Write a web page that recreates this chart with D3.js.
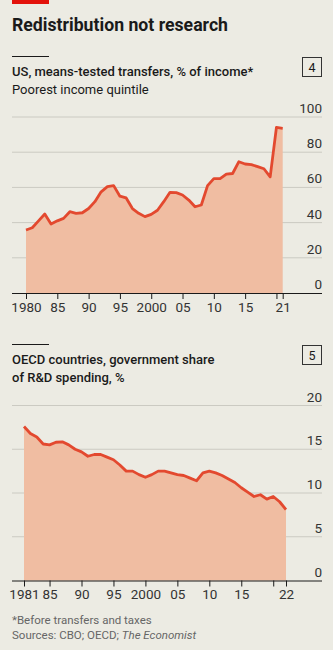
<!DOCTYPE html>
<html>
<head>
<meta charset="utf-8">
<script src="https://cdn.jsdelivr.net/npm/d3@7"></script>
<style>
  body { margin: 0; background: #ecebe3; }
  svg { display: block; }
  text { font-family: Roboto, "Noto Sans", sans-serif; fill: #1a1a1a; }
</style>
</head>
<body>
<script>
// chart 1 - US means-tested transfers, poorest quintile, % of income
var usYears = d3.range(1980, 2022);
var usValues = [35.8, 37.1, 41, 44.9, 39.2, 41, 42.4, 46.2, 45.3, 45.6,
                48, 51.9, 57.5, 60.4, 61, 55, 54, 48, 45.3, 43.4,
                44.7, 47, 51.9, 57.2, 57, 55.7, 52.8, 49, 50, 61,
                65, 65, 67.6, 67.9, 74.6, 73.3, 72.9, 71.8, 70.6, 66,
                94.1, 93.6];
var usTicks = [1980, 1985, 1990, 1995, 2000, 2005, 2010, 2015, 2020, 2021];
var usTickLabels = {1980: '1980', 1985: '85', 1990: '90', 1995: '95', 2000: '2000',
                    2005: '05', 2010: '10', 2015: '15', 2021: '21'};
var usYTicks = [0, 20, 40, 60, 80, 100];

// chart 2 - OECD government share of R&D spending, %
var rdYears = d3.range(1981, 2023);
var rdValues = [17.6, 16.8, 16.4, 15.6, 15.5, 15.8, 15.85, 15.5, 15.0, 14.7,
                14.2, 14.4, 14.4, 14.1, 13.8, 13.2, 12.5, 12.5, 12.1, 11.8,
                12.1, 12.5, 12.5, 12.3, 12.1, 12.0, 11.7, 11.4, 12.3, 12.5,
                12.3, 12.0, 11.6, 11.2, 10.6, 10.1, 9.6, 9.8, 9.3, 9.6,
                9.0, 8.1];
var rdTicks = [1981, 1985, 1990, 1995, 2000, 2005, 2010, 2015, 2020, 2022];
var rdTickLabels = {1981: '1981', 1985: '85', 1990: '90', 1995: '95', 2000: '2000',
                    2005: '05', 2010: '10', 2015: '15', 2022: '22'};
var rdYTicks = [0, 5, 10, 15, 20];

var lineCol = '#e3492f';
var fillCol = '#f0bda2';

var svg = d3.select('body').append('svg')
    .attr('width', 333)
    .attr('height', 650);

// red tag + title
svg.append('rect').attr('x', 12).attr('y', 0).attr('width', 37).attr('height', 4).attr('fill', '#e3120b');
svg.append('text').attr('x', 12).attr('y', 31)
    .style('font-size', '17.5px').style('font-weight', 700)
    .attr('textLength', 216).attr('lengthAdjust', 'spacingAndGlyphs')
    .text('Redistribution not research');

function panel(opts) {
    var g = svg.append('g');
    // short black rule
    g.append('line').attr('x1', 12).attr('x2', 49)
        .attr('y1', opts.top + 0.5).attr('y2', opts.top + 0.5)
        .attr('stroke', '#1a1a1a').attr('stroke-width', 1);
    // numbered box
    g.append('rect').attr('x', 302.5).attr('y', opts.top + 1.5)
        .attr('width', 19).attr('height', 19)
        .attr('fill', 'none').attr('stroke', '#333').attr('stroke-width', 1);
    g.append('text').attr('x', 312).attr('y', opts.top + 16)
        .attr('text-anchor', 'middle').style('font-size', '12.5px')
        .text(opts.num);
    opts.lines.forEach(function(l, i) {
        g.append('text').attr('x', 12).attr('y', opts.top + 20 + i * 17.5)
            .style('font-size', '13px').style('font-weight', l.bold ? 500 : 400)
            .text(l.t);
    });

    var x = d3.scaleLinear().domain(opts.xDomain).range(opts.xRange);
    var y = d3.scaleLinear().domain(opts.yDomain).range(opts.yRange);

    // gridlines + labels
    opts.yTicks.forEach(function(t) {
        if (t !== 0) {
            g.append('line').attr('x1', 12).attr('x2', 322)
                .attr('y1', y(t)).attr('y2', y(t))
                .attr('stroke', '#cbcac2').attr('stroke-width', 1);
        }
        g.append('text').attr('x', 322).attr('y', y(t) - 4)
            .attr('text-anchor', 'end').style('font-size', '13.5px').style('fill', '#333')
            .text(t);
    });

    var data = opts.years.map(function(d, i) { return [d, opts.values[i]]; });
    g.append('path').datum(data)
        .attr('fill', fillCol)
        .attr('d', d3.area().x(function(d) { return x(d[0]); })
            .y0(y(0)).y1(function(d) { return y(d[1]); }));
    g.append('path').datum(data)
        .attr('fill', 'none').attr('stroke', lineCol).attr('stroke-width', 2.8)
        .attr('stroke-linejoin', 'round')
        .attr('d', d3.line().x(function(d) { return x(d[0]); }).y(function(d) { return y(d[1]); }));

    // x axis
    var ax = g.append('g').attr('transform', 'translate(0,' + y(0) + ')')
        .call(d3.axisBottom(x).tickValues(opts.xTicks).tickSize(6).tickSizeOuter(0)
            .tickFormat(function(d) { return opts.xLabels[d] || ''; }));
    ax.select('.domain').attr('d', 'M12,0.5H322').attr('stroke', '#1a1a1a');
    ax.selectAll('.tick line').attr('stroke', '#1a1a1a');
    ax.selectAll('.tick text').attr('y', 9).attr('dy', '0.71em')
        .style('font-size', '13.5px').style('fill', '#333')
        .style('font-family', 'Roboto, sans-serif');
}

panel({
    top: 56, num: '4',
    lines: [{t: 'US, means-tested transfers, % of income*', bold: true},
            {t: 'Poorest income quintile', bold: false}],
    years: usYears, values: usValues,
    xDomain: [1980, 2021], xRange: [26, 282.7],
    yDomain: [0, 100], yRange: [293, 117],
    yTicks: usYTicks, xTicks: usTicks, xLabels: usTickLabels
});

panel({
    top: 344, num: '5',
    lines: [{t: 'OECD countries, government share', bold: true},
            {t: 'of R&D spending, %', bold: true}],
    years: rdYears, values: rdValues,
    xDomain: [1981, 2022], xRange: [24, 286],
    yDomain: [0, 20], yRange: [580.5, 405.5],
    yTicks: rdYTicks, xTicks: rdTicks, xLabels: rdTickLabels
});

// footnotes
svg.append('text').attr('x', 12).attr('y', 624)
    .style('font-size', '11.5px').style('fill', '#666')
    .text('*Before transfers and taxes');
var src = svg.append('text').attr('x', 12).attr('y', 639)
    .style('font-size', '11.5px').style('fill', '#666');
src.append('tspan').text('Sources: CBO; OECD; ');
src.append('tspan').style('font-style', 'italic').text('The Economist');
</script>
</body>
</html>
